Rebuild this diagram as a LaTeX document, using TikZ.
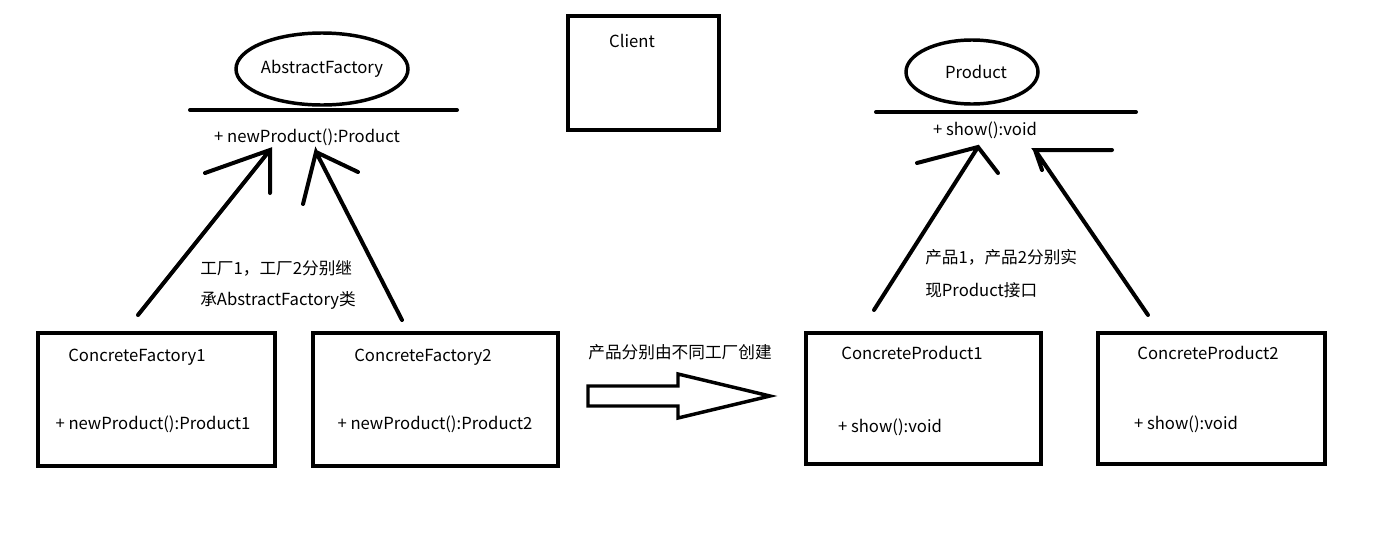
\documentclass[tikz,border=0pt]{standalone}
\usepackage{fontspec}
\setmainfont{Noto Sans CJK SC}
\begin{document}
\begin{tikzpicture}[x=0.75pt,y=-0.75pt,
  box/.style={draw,line width=2.6pt},
  el/.style={draw,line width=2.6pt},
  st/.style={line width=3pt,line cap=round},
  txt/.style={font=\fontsize{12.5pt}{15pt}\selectfont,inner sep=0pt}]
\useasboundingbox (0,0) rectangle (1389,536);
% abstract factory
\draw[el] (322,69) ellipse [x radius=86,y radius=36];
\node[txt] (af) at (322,69) {AbstractFactory};
\draw[st] (190,110) -- (457,110);
\node[txt] (afm) at (307,137) {+ newProduct():Product};
% client
\draw[box] (568,16) rectangle (719,130);
\node[txt] (cl) at (632,41) {Client};
% product
\draw[el] (972,72) ellipse [x radius=66,y radius=32];
\node[txt] (pr) at (976,72) {Product};
\draw[st] (876,112) -- (1136,112);
\node[txt] (prm) at (985,130) {+ show():void};
% concrete boxes
\draw[box] (38,333) rectangle (275,466);
\node[txt] at (137,357) {ConcreteFactory1};
\node[txt] at (153,424) {+ newProduct():Product1};
\draw[box] (313,333) rectangle (558,466);
\node[txt] at (423,357) {ConcreteFactory2};
\node[txt] at (435,424) {+ newProduct():Product2};
\draw[box] (806,333) rectangle (1041,464);
\node[txt] at (912,353) {ConcreteProduct1};
\node[txt] at (890,427) {+ show():void};
\draw[box] (1098,333) rectangle (1325,464);
\node[txt] at (1208,353) {ConcreteProduct2};
\node[txt] at (1186,424) {+ show():void};
% hand arrows
\coordinate (a1) at (270,150); \coordinate (a2) at (316,152);
\coordinate (b1) at (978,147); \coordinate (b2) at (1035,150);
\draw[st] (138,315) -- (a1) (205,173) -- (a1) -- (270,193);
\draw[st] (402,320) -- (a2) -- (303,204) (a2) -- (358,172);
\draw[st] (874,310) -- (b1) (917,163) -- (b1) -- (998,173);
\draw[st] (1148,315) -- (b2) -- (1112,150) (b2) -- (1042,170);
% labels
\node[txt,anchor=west] at (200,268) {工厂1，工厂2分别继};
\node[txt,anchor=west] at (200,300) {承AbstractFactory类};
\node[txt,anchor=west] at (925,257) {产品1，产品2分别实};
\node[txt,anchor=west] at (925,290) {现Product接口};
\node[txt] at (680,352) {产品分别由不同工厂创建};
\draw[line width=2.6pt,line join=miter] (588,386) -- (678,386) -- (678,374) -- (770,396) -- (678,418) -- (678,406) -- (588,406) -- cycle;
\end{tikzpicture}
\end{document}
